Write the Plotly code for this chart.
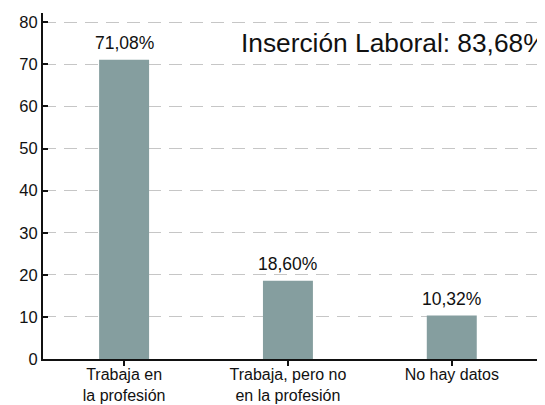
import plotly.graph_objects as go

categories = ["Trabaja en<br>la profesión", "Trabaja, pero no<br>en la profesión", "No hay datos"]
values = [71.08, 18.60, 10.32]
value_labels = ["71,08%", "18,60%", "10,32%"]
annotation_text = "Inserción Laboral: 83,68%"
y_ticks = [0, 10, 20, 30, 40, 50, 60, 70, 80]

FONT = "Liberation Sans, Arial, Helvetica, sans-serif"
xpos = list(range(len(categories)))

fig = go.Figure()
fig.add_trace(go.Bar(
    x=xpos,
    y=values,
    marker=dict(color="#859e9f", line=dict(width=0)),
    width=0.305,
))

annotations = [dict(
    text=annotation_text, xref="paper", yref="y",
    x=0.391, y=75.0, xanchor="left", yanchor="middle",
    showarrow=False, font=dict(size=26.3, family=FONT, color="#111"),
)]
for xi, v, lab in zip(xpos, values, value_labels):
    annotations.append(dict(
        text=lab, x=xi, y=v, xref="x", yref="y",
        xanchor="center", yanchor="bottom", yshift=5,
        showarrow=False, font=dict(size=17.5, family=FONT, color="#111"),
    ))

# page body has an 8px margin, so the figure is sized to end at the window edge
fig.update_layout(
    width=537, height=397,
    margin=dict(l=34.5, r=0, t=4.7, b=46),
    paper_bgcolor="white", plot_bgcolor="white",
    showlegend=False,
    font=dict(family=FONT, color="#111", size=16),
    xaxis=dict(
        range=[-0.495, 2.569], automargin=False,
        tickmode="array", tickvals=xpos, ticktext=categories,
        ticks="outside", ticklen=5, tickcolor="#111", tickwidth=1.5,
        ticklabelstandoff=-5,
        showline=True, linecolor="#111", linewidth=2,
        showgrid=False, zeroline=False,
        tickfont=dict(size=16, family=FONT),
    ),
    yaxis=dict(
        range=[0, 82.2], automargin=False,
        tickmode="array", tickvals=y_ticks,
        ticks="inside", ticklen=5, tickcolor="#111", tickwidth=1.5,
        showline=True, linecolor="#111", linewidth=2,
        showgrid=True, gridcolor="#c6c6c6", griddash="13px,8px", gridwidth=1.2,
        zeroline=False,
        tickfont=dict(size=16.5, family=FONT),
    ),
    annotations=annotations,
)

fig.write_html("out.html")
